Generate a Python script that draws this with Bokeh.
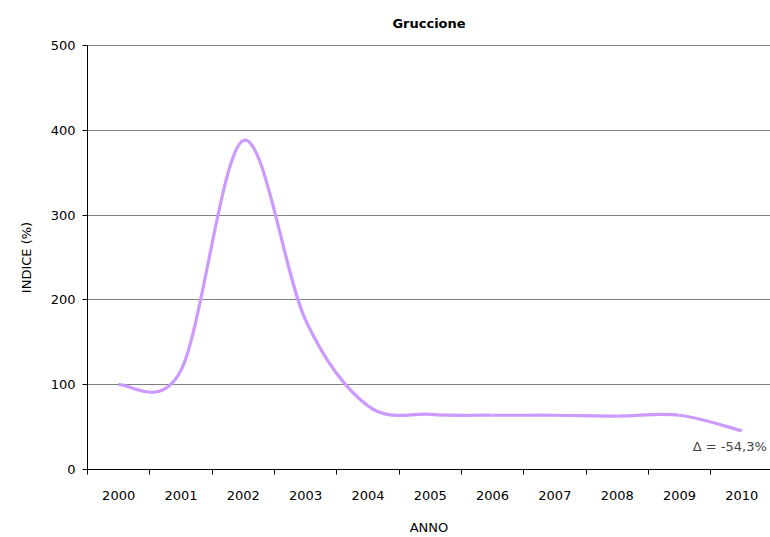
from bokeh.plotting import figure
from bokeh.models import FixedTicker, Label, Span, Range1d
from bokeh.embed import file_html
from bokeh.resources import INLINE

years = ["2000", "2001", "2002", "2003", "2004", "2005", "2006", "2007", "2008", "2009", "2010"]
values = [100, 117, 388, 176, 75, 65, 64, 64, 63, 64, 45.7]
y_ticks = [0, 100, 200, 300, 400, 500]
delta_text = "Δ = -54,3%"

FONT = "DejaVu Sans"
n = len(years)
xs = list(range(n))

p = figure(width=770, height=537, output_backend="svg", toolbar_location=None,
           x_range=Range1d(-0.5, 10.46), y_range=Range1d(0, 500),
           min_border_left=87, min_border_right=0, min_border_top=45, min_border_bottom=68)
p.outline_line_color = None
p.background_fill_color = "white"
p.border_fill_color = "white"

p.title.text = "Gruccione"
p.title.align = "center"
p.title.vertical_align = "top"
p.title.text_font = FONT
p.title.text_font_size = "13px"
p.title.text_font_style = "bold"
p.title.text_color = "black"
p.title.standoff = 26

# smoothed line (Excel-like Catmull-Rom Bezier)
x0, y0, x1, y1, cx0, cy0, cx1, cy1 = [], [], [], [], [], [], [], []
for i in range(n - 1):
    pr = max(i - 1, 0)
    nx = min(i + 2, n - 1)
    x0.append(xs[i]); y0.append(values[i])
    x1.append(xs[i + 1]); y1.append(values[i + 1])
    cx0.append(xs[i] + (xs[i + 1] - xs[pr]) / 6)
    cy0.append(values[i] + (values[i + 1] - values[pr]) / 6)
    cx1.append(xs[i + 1] - (xs[nx] - xs[i]) / 6)
    cy1.append(values[i + 1] - (values[nx] - values[i]) / 6)

p.bezier(x0=x0, y0=y0, x1=x1, y1=y1, cx0=cx0, cy0=cy0, cx1=cx1, cy1=cy1,
         line_color="#CC99FF", line_width=3.2)

# x axis: labels at centres, ticks at boundaries
p.xaxis.ticker = FixedTicker(ticks=xs, minor_ticks=[i - 0.5 for i in range(n + 1)])
p.xaxis.major_label_overrides = {i: y for i, y in enumerate(years)}
p.xaxis.major_tick_out = 0
p.xaxis.major_tick_in = 0
p.xaxis.minor_tick_out = 5
p.xaxis.minor_tick_in = 0
p.xaxis.minor_tick_line_color = "black"
p.xaxis.axis_line_color = "black"
p.xaxis.major_label_text_font = FONT
p.xaxis.major_label_text_font_size = "13px"
p.xaxis.major_label_text_color = "black"
p.xaxis.major_label_standoff = 16
p.xaxis.axis_label = "ANNO"
p.xaxis.axis_label_text_font = FONT
p.xaxis.axis_label_text_font_size = "13px"
p.xaxis.axis_label_text_font_style = "normal"
p.xaxis.axis_label_text_color = "black"
p.xaxis.axis_label_standoff = 17

# y axis
p.yaxis.ticker = FixedTicker(ticks=y_ticks)
p.yaxis.major_tick_out = 5
p.yaxis.major_tick_in = 0
p.yaxis.minor_tick_line_color = None
p.yaxis.axis_line_color = "black"
p.yaxis.major_tick_line_color = "black"
p.yaxis.major_label_text_font = FONT
p.yaxis.major_label_text_font_size = "13px"
p.yaxis.major_label_text_color = "black"
p.yaxis.major_label_standoff = 7
p.yaxis.axis_label = "INDICE (%)"
p.yaxis.axis_label_text_font = FONT
p.yaxis.axis_label_text_font_size = "13px"
p.yaxis.axis_label_text_font_style = "normal"
p.yaxis.axis_label_text_color = "black"
p.yaxis.axis_label_standoff = 14

p.xgrid.grid_line_color = None
p.ygrid.ticker = FixedTicker(ticks=y_ticks[1:-1])
p.ygrid.grid_line_color = "#808080"
p.ygrid.grid_line_width = 1

p.add_layout(Span(location=500, dimension="width", line_color="black", line_width=1))

p.add_layout(Label(x=10.4, y=27, text=delta_text, text_font=FONT, text_font_size="13px",
                   text_align="right", text_baseline="middle"))

open("out.html", "w").write(file_html(p, INLINE))
